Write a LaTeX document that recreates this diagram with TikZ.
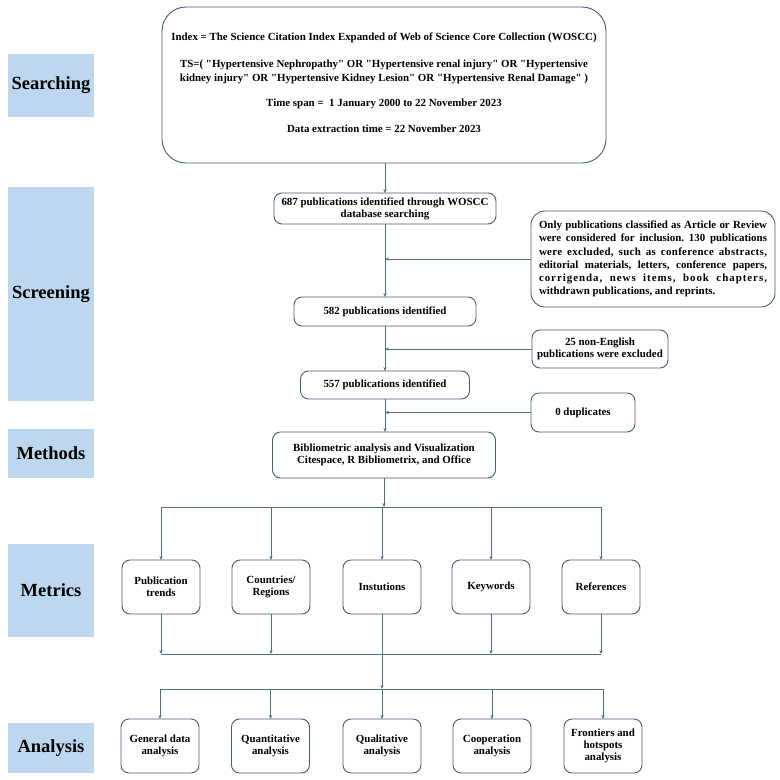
\documentclass[tikz,border=0pt]{standalone}
\usepackage{fontspec}
\setmainfont{Liberation Serif}[Ligatures=TeXOff]
\usetikzlibrary{arrows.meta}
\definecolor{labfill}{RGB}{189,215,238}
\definecolor{bcol}{RGB}{72,92,115}
\definecolor{lcol}{RGB}{82,110,138}
\frenchspacing
\begin{document}
\begin{tikzpicture}[x=1pt,y=-1pt,
  every node/.style={inner sep=0pt, outer sep=0pt},
  lab/.style={fill=labfill, minimum width=86pt, font=\fontsize{18.5}{20}\selectfont\bfseries},
  box/.style={draw=bcol, line width=0.9pt, rounded corners=8pt, align=center, fill=white,
    font=\fontsize{10.9}{12.2}\selectfont\bfseries},
  sbox/.style={box, minimum width=78pt, minimum height=54pt},
  conn/.style={draw=lcol, line width=0.9pt},
  arr/.style={conn, -{Stealth[length=4pt,width=3.2pt]}},
]
\useasboundingbox (0,0) rectangle (780,780);
\fill[white] (0,0) rectangle (780,780);

% stage labels
\node[lab, minimum height=63pt] (lsearch) at (51,85.5) {Searching};
\node[lab, minimum height=214pt] (lscreen) at (51,294) {Screening};
\node[lab, minimum height=49pt] (lmeth) at (51,453.5) {Methods};
\node[lab, minimum height=93pt] (lmetr) at (51,590.5) {Metrics};
\node[lab, minimum height=50pt] (lanal) at (51,748) {Analysis};

% search box
\node[box, rounded corners=24pt, minimum width=444pt, minimum height=156pt] (main) at (384,85) {};
\node[align=center, font=\fontsize{10.9}{14}\selectfont\bfseries] (maintext) at (384,82.5)
 {Index = The Science Citation Index Expanded of Web of Science Core Collection (WOSCC)\\[13pt]
  TS=( "Hypertensive Nephropathy" OR "Hypertensive renal injury" OR "Hypertensive\\
  kidney injury" OR "Hypertensive Kidney Lesion" OR "Hypertensive Renal Damage" )\\[11pt]
  Time span = \ 1 January 2000 to 22 November 2023\\[12pt]
  Data extraction time = 22 November 2023};

% screening column
\node[box, minimum width=222pt, minimum height=31pt] (n687) at (385,208.5)
 {687 publications identified through WOSCC\\database searching};
\node[box, rounded corners=14pt, minimum width=244pt, minimum height=96pt, text width=228pt,
  align=justify, font=\fontsize{10.9}{13.2}\selectfont\bfseries] (excl1) at (653,259)
 {Only publications classified as Article or Review\linebreak
  were considered for inclusion. 130 publications\linebreak
  {\addfontfeature{LetterSpace=3}were excluded, such as conference abstracts,}\linebreak
  editorial materials, letters, conference papers,\linebreak
  {\addfontfeature{LetterSpace=9}corrigenda, news items, book chapters,}\linebreak
  withdrawn publications, and reprints.};
\node[box, minimum width=182pt, minimum height=29pt] (n582) at (385,311.5) {582 publications identified};
\node[box, minimum width=136pt, minimum height=38pt] (excl2) at (600,349)
 {25 non-English\\publications were excluded};
\node[box, minimum width=169pt, minimum height=28pt] (n557) at (385,385) {557 publications identified};
\node[box, minimum width=104pt, minimum height=39pt] (excl3) at (583,412.5) {0 duplicates};
\node[box, minimum width=223pt, minimum height=46pt] (meth) at (384,455)
 {Bibliometric analysis and Visualization\\Citespace, R Bibliometrix, and Office};

% metrics
\node[sbox] (m1) at (161,587) {Publication\\trends};
\node[sbox] (m2) at (271,587) {Countries/\\Regions};
\node[sbox] (m3) at (382,587) {Instutions};
\node[sbox] (m4) at (491,587) {Keywords};
\node[sbox] (m5) at (601,587) {References};

% analysis
\node[sbox] (a1) at (160,746) {General data\\analysis};
\node[sbox] (a2) at (270.5,746) {Quantitative\\analysis};
\node[sbox] (a3) at (382,746) {Qualitative\\analysis};
\node[sbox] (a4) at (492,746) {Cooperation\\analysis};
\node[sbox] (a5) at (603,746) {Frontiers and\\hotspots\\analysis};

% connectors: screening column
\draw[arr] (main.south -| n687.north) -- (n687.north);
\draw[arr] (n687.south) -- (n582.north);
\draw[arr] (excl1.west) -- (n687.south |- excl1.west);
\draw[arr] (n582.south) -- (n557.north);
\draw[arr] (excl2.west) -- (n582.south |- excl2.west);
\draw[arr] (n557.south) -- (n557.south |- meth.north);
\draw[arr] (excl3.west) -- (n557.south |- excl3.west);

% methods -> metrics
\coordinate (h1) at (384,507);
\draw[arr] (meth.south) -- (meth.south |- h1);
\draw[conn] (m1.north |- h1) -- (m5.north |- h1);
\foreach \i in {1,...,5} \draw[arr] (m\i.north |- h1) -- (m\i.north);

% metrics -> analysis
\coordinate (h2) at (384,654);
\coordinate (h3) at (384,689);
\foreach \i in {1,2,4,5} \draw[arr] (m\i.south) -- (m\i.south |- h2);
\draw[conn] (m1.south |- h2) -- (m5.south |- h2);
\draw[arr] (m3.south) -- (m3.south |- h3);
\draw[conn] (a1.north |- h3) -- (a5.north |- h3);
\foreach \i in {1,...,5} \draw[arr] (a\i.north |- h3) -- (a\i.north);
\end{tikzpicture}
\end{document}
